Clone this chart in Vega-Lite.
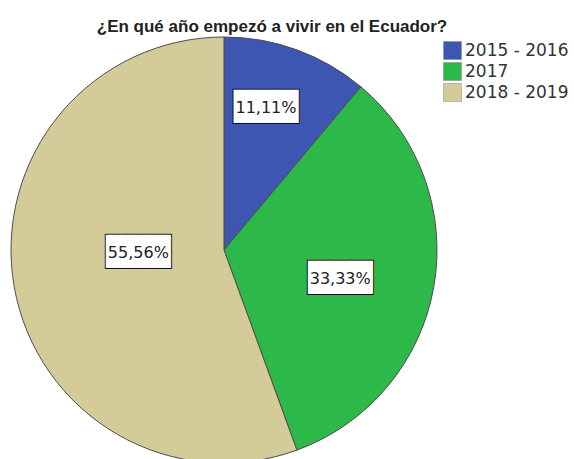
{
  "$schema": "https://vega.github.io/schema/vega-lite/v6.json",
  "width": 448,
  "height": 418,
  "autosize": "none",
  "padding": {"left": 0, "top": 41, "right": 126, "bottom": 0},
  "background": "white",
  "config": {"view": {"stroke": null}},
  "title": {
    "text": "¿En qué año empezó a vivir en el Ecuador?",
    "font": "Liberation Sans",
    "fontSize": 17,
    "fontWeight": "bold",
    "color": "#222222",
    "anchor": "middle",
    "frame": "group",
    "dx": 48,
    "dy": 23,
    "baseline": "alphabetic",
    "offset": 9
  },
  "data": {
    "values": [
      {"cat": "2015 - 2016", "value": 11.11, "label": "11,11%"},
      {"cat": "2017", "value": 33.33, "label": "33,33%"},
      {"cat": "2018 - 2019", "value": 55.56, "label": "55,56%"}
    ]
  },
  "encoding": {
    "theta": {"field": "value", "type": "quantitative", "stack": true},
    "order": {"field": "cat", "type": "nominal", "sort": "ascending"}
  },
  "layer": [
    {
      "mark": {"type": "arc", "outerRadius": 213, "stroke": "#4d4d4d", "strokeWidth": 1},
      "encoding": {
        "color": {
          "field": "cat",
          "type": "nominal",
          "scale": {"domain": ["2015 - 2016", "2017", "2018 - 2019"], "range": ["#3d56b2", "#2db84a", "#d4cc98"]},
          "legend": {
            "orient": "none",
            "legendX": 443,
            "legendY": 0,
            "title": null,
            "symbolType": "square",
            "symbolSize": 324,
            "symbolStrokeColor": "#888888",
            "symbolStrokeWidth": 0.5,
            "labelFont": "DejaVu Sans",
            "labelFontSize": 17,
            "labelColor": "#333333",
            "labelOffset": 3,
            "rowPadding": 0,
            "padding": 0
          }
        }
      }
    },
    {
      "mark": {"type": "text", "font": "DejaVu Sans", "fontSize": 28, "baseline": "middle", "color": "#111111", "stroke": "#111111", "strokeWidth": 2,
        "radius": {"expr": "datum.cat === '2015 - 2016' ? 149 : datum.cat === '2017' ? 118 : 87"},
        "dx": {"expr": "datum.cat === '2015 - 2016' ? -9 : 0"},
        "dy": {"expr": "datum.cat === '2017' ? 9 : datum.cat === '2018 - 2019' ? -12 : -2"}},
      "encoding": {
        "detail": {"field": "cat"},
        "text": {"value": "███"}
      }
    },
    {
      "mark": {"type": "text", "font": "DejaVu Sans", "fontSize": 28, "baseline": "middle", "color": "white",
        "radius": {"expr": "datum.cat === '2015 - 2016' ? 149 : datum.cat === '2017' ? 118 : 87"},
        "dx": {"expr": "datum.cat === '2015 - 2016' ? -9 : 0"},
        "dy": {"expr": "datum.cat === '2017' ? 9 : datum.cat === '2018 - 2019' ? -12 : -2"}},
      "encoding": {
        "detail": {"field": "cat"},
        "text": {"value": "███"}
      }
    },
    {
      "mark": {"type": "text", "font": "DejaVu Sans", "fontSize": 16, "baseline": "middle", "color": "#222222",
        "radius": {"expr": "datum.cat === '2015 - 2016' ? 149 : datum.cat === '2017' ? 118 : 87"},
        "dx": {"expr": "datum.cat === '2015 - 2016' ? -9 : 0"},
        "dy": {"expr": "datum.cat === '2017' ? 9 : datum.cat === '2018 - 2019' ? -12 : -2"}},
      "encoding": {
        "detail": {"field": "cat"},
        "text": {"field": "label"}
      }
    }
  ]
}
